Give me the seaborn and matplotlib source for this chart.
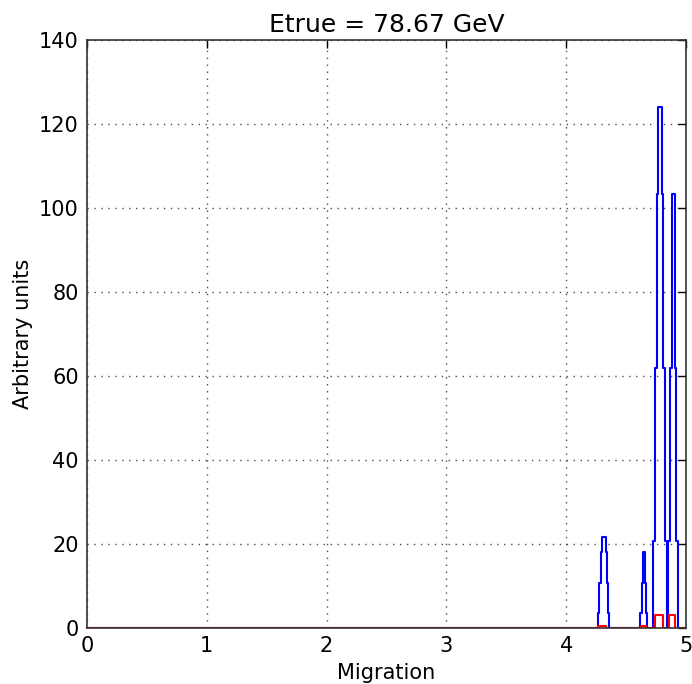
import numpy as np
import pandas as pd
import seaborn as sb
import matplotlib
matplotlib.use('Agg')
import matplotlib.pyplot as plt

# bin edges / heights (non uniform bins)
blue_edges = [0, 4.264, 4.277, 4.291, 4.297, 4.330, 4.341, 4.352, 4.360,
              4.616, 4.630, 4.639, 4.658, 4.666, 4.677,
              4.727, 4.744, 4.756, 4.766, 4.802, 4.811, 4.821, 4.839,
              4.854, 4.869, 4.883, 4.908, 4.919, 4.930, 5]
blue_heights = [0, 3.6, 10.8, 18, 21.6, 18, 10.8, 3.6,
                0, 3.6, 10.8, 18, 10.8, 3.6,
                0, 20.7, 62, 103.3, 124, 103.3, 62, 20.7,
                0, 20.7, 62, 103.3, 62, 20.7, 0]

red_edges = [0, 4.264, 4.330, 4.625, 4.664, 4.744, 4.811, 4.861, 4.905, 5]
red_heights = [0, 0.5, 0, 0.4, 0, 3.1, 0, 3.1, 0]

title = 'Etrue = 78.67 GeV'
xticks = [0, 1, 2, 3, 4, 5]
yticks = [0, 20, 40, 60, 80, 100, 120, 140]

sb.set_style('white')
plt.rcParams['font.family'] = ['DejaVu Sans']
plt.rcParams['xtick.direction'] = 'in'
plt.rcParams['ytick.direction'] = 'in'
plt.rcParams['xtick.top'] = True
plt.rcParams['ytick.right'] = True
plt.rcParams['text.color'] = 'k'
plt.rcParams['axes.labelcolor'] = 'k'

def centers(e):
    e = np.array(e)
    return (e[:-1] + e[1:]) / 2

blue_df = pd.DataFrame({'x': centers(blue_edges), 'w': blue_heights})
red_df = pd.DataFrame({'x': centers(red_edges), 'w': red_heights})

fig = plt.figure(figsize=(6.92, 6.84), dpi=100)
ax = fig.add_axes([0.1257, 0.0819, 0.8656, 0.8596])

sb.histplot(data=blue_df, x='x', weights='w', bins=blue_edges, element='step',
            fill=False, color='b', linewidth=1.5, ax=ax)
sb.histplot(data=red_df, x='x', weights='w', bins=red_edges, element='step',
            fill=False, color='r', linewidth=1.5, ax=ax)

ax.set_xlim(0, 5)
ax.set_ylim(0, 140)
ax.set_xticks(xticks)
ax.set_yticks(yticks)
ax.tick_params(labelsize=15, length=6, width=1, colors='k', pad=6)
ax.grid(True, linestyle=(0, (1, 4)), color='0.3', linewidth=1)
for s in ax.spines.values():
    s.set_color('#333333')
    s.set_linewidth(1.2)
ax.set_xlabel('Migration', fontsize=15, labelpad=5)
ax.set_ylabel('Arbitrary units', fontsize=15)
ax.set_title(title, fontsize=18)

fig.savefig('out.png', dpi=100)
